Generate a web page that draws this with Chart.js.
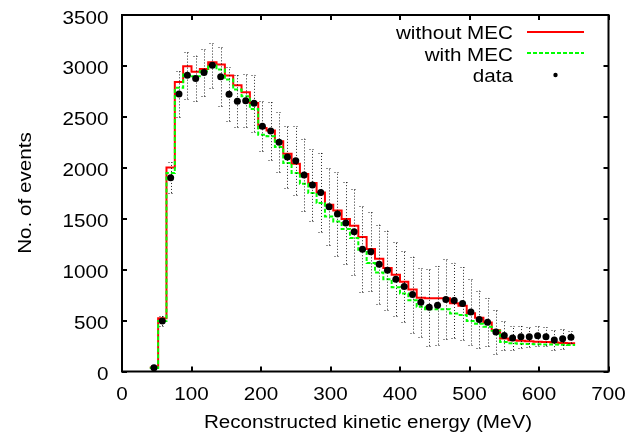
<!DOCTYPE html>
<html>
<head>
<meta charset="utf-8">
<script src="https://cdn.jsdelivr.net/npm/chart.js@4.4.0/dist/chart.umd.min.js"></script>
<style>
    html, body { margin: 0; padding: 0; background: #fff; }
    canvas { display: block; }
</style>
</head>
<body>
<canvas id="energyChart" width="640" height="438"></canvas>
<script>
// Bin centres (MeV), 12 MeV wide bins
const binCentres = [
    46, 58, 70, 82, 94, 106, 118, 130, 142, 154,
    166, 178, 190, 202, 214, 226, 238, 250, 262, 274,
    286, 298, 310, 322, 334, 346, 358, 370, 382, 394,
    406, 418, 430, 442, 454, 466, 478, 490, 502, 514,
    526, 538, 550, 562, 574, 586, 598, 610, 622, 634,
    646
];
const binWidth = 12;

const withoutMEC = [
    40, 523, 2004, 2843, 2997, 2942, 2971, 3036, 3014, 2906,
    2810, 2741, 2637, 2391, 2365, 2260, 2139, 2040, 1939, 1850,
    1758, 1637, 1581, 1497, 1431, 1320, 1202, 1106, 1015, 949,
    880, 806, 723, 718, 718, 720, 670, 645, 572, 528,
    482, 405, 323, 308, 303, 298, 293, 290, 285, 280,
    277
];

const withMEC = [
    35, 497, 1949, 2785, 2915, 2899, 2948, 3004, 2964, 2866,
    2768, 2702, 2578, 2325, 2309, 2204, 2047, 1949, 1844, 1752,
    1654, 1522, 1473, 1398, 1310, 1195, 1064, 971, 906, 828,
    765, 700, 635, 612, 612, 610, 570, 555, 495, 470,
    440, 400, 290, 278, 272, 270, 268, 266, 264, 262,
    260
];

const dataCounts = [
    37, 496, 1903, 2725, 2909, 2876, 2935, 3007, 2893, 2722,
    2653, 2657, 2633, 2407, 2362, 2250, 2106, 2070, 1929, 1831,
    1758, 1618, 1546, 1457, 1372, 1201, 1175, 1054, 995, 906,
    834, 755, 680, 631, 650, 708, 698, 668, 585, 511,
    484, 388, 354, 329, 340, 340, 352, 342, 310, 322,
    336
];

const dataErrors = [
    30, 50, 150, 230, 230, 225, 235, 220, 290, 265,
    255, 260, 280, 245, 287, 295, 303, 336, 357, 352,
    388, 380, 410, 403, 421, 423, 388, 388, 388, 362,
    347, 374, 338, 379, 386, 393, 369, 357, 320, 283,
    238, 213, 145, 118, 110, 100, 98, 90, 100, 100,
    60
];

const xTitle = 'Reconstructed kinetic energy (MeV)';
const yTitle = 'No. of events';
const legendLabels = ['without MEC', 'with MEC', 'data'];

const FONT = '"Liberation Sans", Arial, Helvetica, sans-serif';
const FONT_SIZE = 17.5;
const STRETCH = 1.18; // gnuplot text is a bit wider than Arial

// histeps: one point per left bin edge + closing point at the last right edge
function stepPoints(values) {
    const pts = binCentres.map((c, i) => ({ x: c - binWidth / 2, y: values[i] }));
    const last = binCentres.length - 1;
    pts.push({ x: binCentres[last] + binWidth / 2, y: values[last] });
    return pts;
}

function drawText(ctx, text, x, y, align, rotate) {
    ctx.save();
    ctx.translate(x, y);
    if (rotate) ctx.rotate(-Math.PI / 2);
    ctx.scale(STRETCH, 1);
    ctx.font = FONT_SIZE + 'px ' + FONT;
    ctx.fillStyle = '#000';
    ctx.textAlign = align;
    ctx.textBaseline = 'alphabetic';
    ctx.fillText(text, 0, 0);
    ctx.restore();
}

// dotted error bars, drawn just before the data points
const errorBars = {
    id: 'errorBars',
    beforeDatasetDraw(chart, args) {
        if (args.index !== 0) return;
        const { ctx, scales: { x, y } } = chart;
        ctx.save();
        ctx.strokeStyle = 'rgba(0,0,0,0.85)';
        ctx.lineWidth = 1;
        ctx.setLineDash([1, 2]);
        ctx.beginPath();
        binCentres.forEach((c, i) => {
            const px = Math.round(x.getPixelForValue(c)) + 0.5;
            const lo = y.getPixelForValue(dataCounts[i] - dataErrors[i]);
            const hi = y.getPixelForValue(dataCounts[i] + dataErrors[i]);
            ctx.moveTo(px, lo);
            ctx.lineTo(px, hi);
            ctx.moveTo(px - 3, Math.round(lo) + 0.5);
            ctx.lineTo(px + 3, Math.round(lo) + 0.5);
            ctx.moveTo(px - 3, Math.round(hi) + 0.5);
            ctx.lineTo(px + 3, Math.round(hi) + 0.5);
        });
        ctx.stroke();
        ctx.restore();
    }
};

// gnuplot style frame: border, inward mirrored ticks, labels, key
const frame = {
    id: 'frame',
    afterDraw(chart) {
        const { ctx, chartArea: a, scales: { x, y } } = chart;
        ctx.save();
        ctx.strokeStyle = '#000';
        ctx.lineWidth = 2;
        ctx.beginPath();
        x.ticks.forEach(t => {
            const px = Math.round(x.getPixelForValue(t.value));
            ctx.moveTo(px, a.bottom); ctx.lineTo(px, a.bottom - 5);
            ctx.moveTo(px, a.top); ctx.lineTo(px, a.top + 5);
        });
        y.ticks.forEach(t => {
            const py = Math.round(y.getPixelForValue(t.value));
            ctx.moveTo(a.left, py); ctx.lineTo(a.left + 5, py);
            ctx.moveTo(a.right, py); ctx.lineTo(a.right - 5, py);
        });
        ctx.stroke();
        ctx.strokeRect(a.left, a.top, a.right - a.left, a.bottom - a.top);

        x.ticks.forEach(t => drawText(ctx, String(t.value), x.getPixelForValue(t.value), 400, 'center'));
        y.ticks.forEach(t => drawText(ctx, String(t.value), 108.5, y.getPixelForValue(t.value) + 8.5, 'right'));
        drawText(ctx, xTitle, 368, 428, 'center');
        drawText(ctx, yTitle, 30.5, 193, 'center', true);

        // key
        drawText(ctx, legendLabels[0], 513, 39, 'right');
        drawText(ctx, legendLabels[1], 513, 60.5, 'right');
        drawText(ctx, legendLabels[2], 513, 82, 'right');
        ctx.lineWidth = 2;
        ctx.strokeStyle = '#ff0000';
        ctx.beginPath(); ctx.moveTo(527, 32); ctx.lineTo(584, 32); ctx.stroke();
        ctx.strokeStyle = '#00ff00';
        ctx.setLineDash([4, 2]);
        ctx.beginPath(); ctx.moveTo(527, 53); ctx.lineTo(584, 53); ctx.stroke();
        ctx.setLineDash([]);
        ctx.fillStyle = '#000';
        ctx.beginPath(); ctx.arc(555.5, 75, 2.2, 0, Math.PI * 2); ctx.fill();
        ctx.restore();
    }
};

const ctx = document.getElementById('energyChart').getContext('2d');
new Chart(ctx, {
    type: 'line',
    data: {
        datasets: [
            {
                label: 'data',
                type: 'scatter',
                data: binCentres.map((c, i) => ({ x: c, y: dataCounts[i] })),
                pointRadius: 3.5,
                pointBackgroundColor: '#000',
                pointBorderWidth: 0,
                showLine: false
            },
            {
                label: 'with MEC',
                data: stepPoints(withMEC),
                stepped: 'before',
                borderColor: '#00ff00',
                borderWidth: 2,
                borderDash: [4, 2],
                borderJoinStyle: 'miter',
                pointRadius: 0,
                fill: false
            },
            {
                label: 'without MEC',
                data: stepPoints(withoutMEC),
                stepped: 'before',
                borderColor: '#ff0000',
                borderWidth: 2,
                borderJoinStyle: 'miter',
                pointRadius: 0,
                fill: false
            }
        ]
    },
    options: {
        responsive: false,
        animation: false,
        layout: { padding: { left: 0, right: 31.5, top: 15, bottom: 0 } },
        plugins: {
            legend: { display: false },
            tooltip: { enabled: false }
        },
        scales: {
            x: {
                type: 'linear',
                min: 0, max: 700,
                ticks: { stepSize: 100, display: false },
                grid: { display: false },
                border: { display: false },
                afterFit(scale) { scale.height = 66.5; }
            },
            y: {
                min: 0, max: 3500,
                ticks: { stepSize: 500, display: false },
                grid: { display: false },
                border: { display: false },
                afterFit(scale) { scale.width = 122; }
            }
        }
    },
    plugins: [errorBars, frame]
});
</script>
</body>
</html>
